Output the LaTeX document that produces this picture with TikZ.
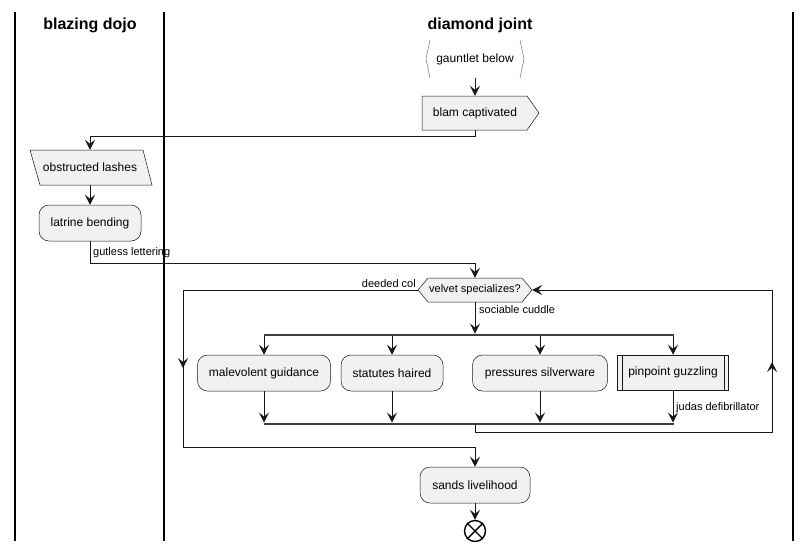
\documentclass[tikz,border=0pt]{standalone}
\usepackage{fontspec}
\setmainfont{Liberation Sans}
\usetikzlibrary{arrows.meta,calc}
\definecolor{nodefill}{HTML}{F1F1F1}
\definecolor{edgec}{HTML}{181818}
\definecolor{bordc}{HTML}{181818}
\begin{document}
\begin{tikzpicture}[x=1pt,y=-1pt,
  arr/.style={draw=edgec, line width=1pt, -{Stealth[length=10pt,width=10pt,inset=4pt]}},
  plain/.style={draw=edgec, line width=1pt},
  shapebox/.style={fill=nodefill, draw=bordc, line width=0.5pt},
  act/.style={shapebox, rounded corners=10pt, minimum height=36pt, inner sep=0pt, font=\fontsize{12}{14}\selectfont},
  txt/.style={inner sep=0pt, font=\fontsize{12}{14}\selectfont},
  lbl/.style={inner sep=0pt, font=\fontsize{11}{13}\selectfont},
  lane/.style={draw=black, line width=1.5pt},
  head/.style={inner sep=0pt, font=\bfseries\fontsize{16}{19}\selectfont},
  bar/.style={fill=black!75, inner sep=0pt, minimum height=2.5pt, minimum width=410pt}
]
\useasboundingbox (0,0) rectangle (810,552);
\fill[white] (0,0) rectangle (810,552);

% lanes
\draw[lane] (15,12) -- (15,541);
\draw[lane] (164,12) -- (164,541);
\draw[lane] (793,12) -- (793,541);
\node[head] (h1) at (90,25.5) {blazing dojo};
\node[head] (h2) at (480,25.5) {diamond joint};

% gauntlet below
\node[txt, minimum width=98pt, minimum height=38pt] (g) at (475,59) {gauntlet below};
\draw[draw=black!55, line width=0.5pt] (430,40) -- (426,59) -- (430,78);
\draw[draw=black!55, line width=0.5pt] (520,40) -- (524,59) -- (520,78);

% blam captivated
\path[shapebox] (422,96) -- (527,96) -- (539,113) -- (527,130) -- (422,130) -- cycle;
\node[txt, minimum width=106pt, minimum height=34pt] (blam) at (475,113) {blam captivated};
\draw[arr] (g.south) -- (blam.north);

% obstructed lashes
\path[shapebox] (30,150) -- (143,150) -- (152,185) -- (40,185) -- cycle;
\node[txt, minimum width=110pt, minimum height=35pt] (obs) at (90,167.5) {obstructed lashes};
\draw[arr] (blam.south) -- ++(0,6) -| (obs.north);

% latrine bending
\node[act, minimum width=102pt] (lat) at (90,223) {latrine bending};
\draw[arr] (obs.south) -- (lat.north);

% velvet specializes?
\path[shapebox] (418,290) -- (428,278) -- (522,278) -- (532,290) -- (522,302) -- (428,302) -- cycle;
\node[lbl, minimum width=114pt, minimum height=24pt] (hex) at (475,290) {velvet specializes?};
\draw[arr] (lat.south) -- (90,263) -| (hex.north);
\node[lbl, anchor=west] (l1) at (93,253) {gutless lettering};
\node[lbl, anchor=east] (l2) at (416,284) {deeded col};
\node[lbl, anchor=west] (l3) at (479,310) {sociable cuddle};

% fork
\node[bar] (fork) at (468.5,335) {};
\draw[arr] (hex.south) -- (hex.south |- fork.north);

\node[act, minimum width=133pt] (m) at (264,373) {malevolent guidance};
\node[act, minimum width=102pt] (s) at (392,373) {statutes haired};
\node[act, minimum width=135pt] (p) at (540,373) {pressures silverware};
\node[shapebox, txt, minimum width=111pt, minimum height=35pt] (pp) at (673,372.5) {pinpoint guzzling};
\draw[draw=bordc, line width=0.5pt] ([xshift=5pt]pp.north west) -- ([xshift=5pt]pp.south west);
\draw[draw=bordc, line width=0.5pt] ([xshift=-5pt]pp.north east) -- ([xshift=-5pt]pp.south east);

\foreach \n in {m,s,p,pp} \draw[arr] (\n.north |- fork.south) -- (\n.north);

% join
\node[bar] (join) at (468.5,424) {};
\foreach \n in {m,s,p,pp} \draw[arr] (\n.south) -- (\n.south |- join.north);
\node[lbl, anchor=west] (l4) at (676,408) {judas defibrillator};

% sands livelihood
\node[act, minimum width=110pt] (sands) at (475,485) {sands livelihood};

% loop back (right)
\draw[arr] (join.south -| hex.south) -- (475,432) -- (772,432) -- (772,290) -- (hex.east);
\draw[arr] (772,375) -- (772,362);

% exit (left)
\draw[arr] (hex.west) -- (183,290) -- (183,447) -| (sands.north);
\draw[arr] (183,355) -- (183,368);

% stop
\node[circle, draw=black, line width=1.4pt, fill=white, minimum size=21pt, inner sep=0pt] (stop) at (475,531) {};
\draw[black, line width=1.4pt] (stop.north west) -- (stop.south east) (stop.north east) -- (stop.south west);
\draw[arr] (sands.south) -- (stop.north);
\end{tikzpicture}
\end{document}
